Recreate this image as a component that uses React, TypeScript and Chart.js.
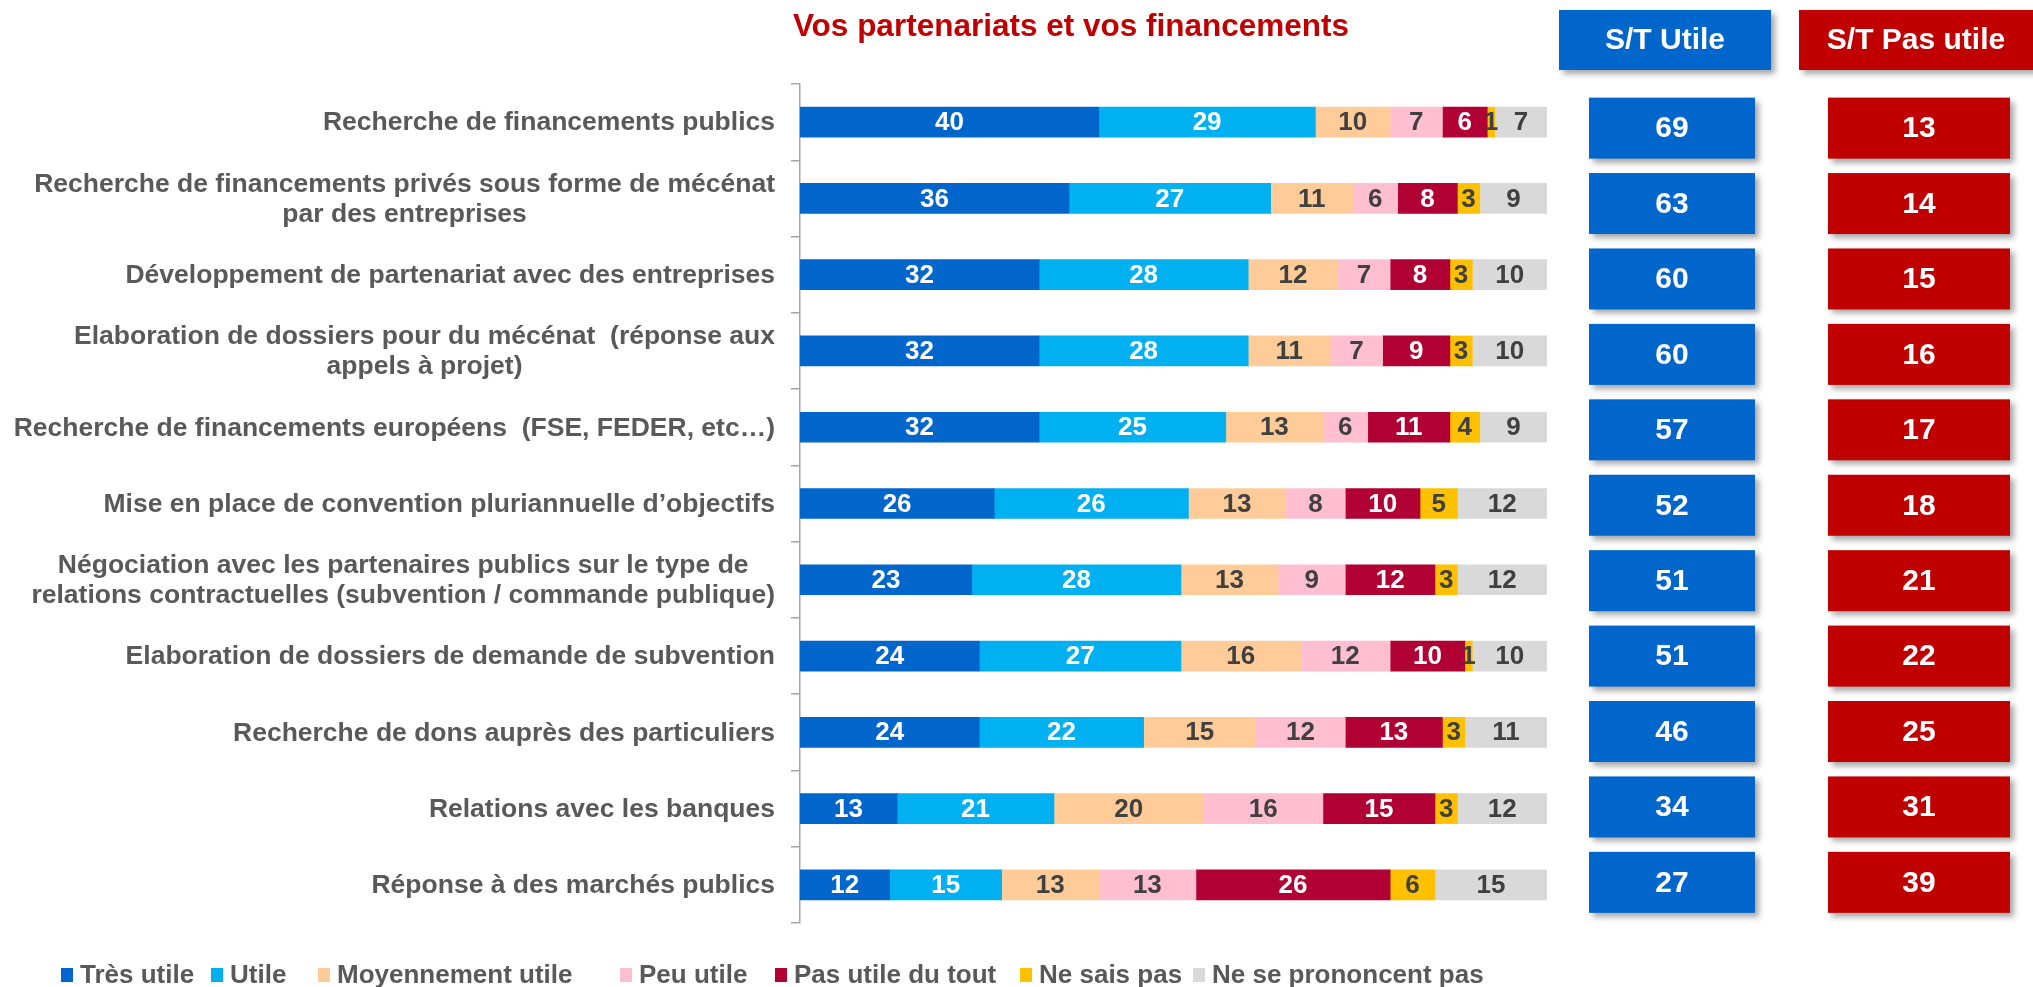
import React, { useEffect, useRef } from "react";
import { Chart, registerables } from "chart.js";
Chart.register(...registerables);

const categories: string[][] = [
  ["Recherche de financements publics"],
  ["Recherche de financements privés sous forme de mécénat", "par des entreprises"],
  ["Développement de partenariat avec des entreprises"],
  ["Elaboration de dossiers pour du mécénat  (réponse aux", "appels à projet)"],
  ["Recherche de financements européens  (FSE, FEDER, etc…)"],
  ["Mise en place de convention pluriannuelle d’objectifs"],
  ["Négociation avec les partenaires publics sur le type de", "relations contractuelles (subvention / commande publique)"],
  ["Elaboration de dossiers de demande de subvention"],
  ["Recherche de dons auprès des particuliers"],
  ["Relations avec les banques"],
  ["Réponse à des marchés publics"],
];

const tresUtile = [40, 36, 32, 32, 32, 26, 23, 24, 24, 13, 12];
const utile = [29, 27, 28, 28, 25, 26, 28, 27, 22, 21, 15];
const moyennementUtile = [10, 11, 12, 11, 13, 13, 13, 16, 15, 20, 13];
const peuUtile = [7, 6, 7, 7, 6, 8, 9, 12, 12, 16, 13];
const pasUtileDuTout = [6, 8, 8, 9, 11, 10, 12, 10, 13, 15, 26];
const neSaisPas = [1, 3, 3, 3, 4, 5, 3, 1, 3, 3, 6];
const neSePrononcentPas = [7, 9, 10, 10, 9, 12, 12, 10, 11, 12, 15];

const stUtile = [69, 63, 60, 60, 57, 52, 51, 51, 46, 34, 27];
const stPasUtile = [13, 14, 15, 16, 17, 18, 21, 22, 25, 31, 39];

const seriesNames = [
  "Très utile",
  "Utile",
  "Moyennement utile",
  "Peu utile",
  "Pas utile du tout",
  "Ne sais pas",
  "Ne se prononcent pas",
];
const seriesValues = [tresUtile, utile, moyennementUtile, peuUtile, pasUtileDuTout, neSaisPas, neSePrononcentPas];
const seriesColors = ["#0066CC", "#00B0F0", "#FFCC99", "#FFBFD0", "#B00034", "#FFC000", "#D9D9D9"];
const labelColors = ["#FFFFFF", "#FFFFFF", "#404040", "#404040", "#FFFFFF", "#404040", "#404040"];

const title = "Vos partenariats et vos financements";
const headerUtile = "S/T Utile";
const headerPasUtile = "S/T Pas utile";

const FONT = "'Liberation Sans', Arial, Helvetica, sans-serif";
const BLUE = "#0066CC";
const RED = "#C00000";
const LEGEND_X = [61, 211, 318, 620, 775, 1020, 1193];

function drawBox(ctx: CanvasRenderingContext2D, x: number, y: number, w: number, h: number, color: string) {
  ctx.save();
  ctx.shadowColor = "rgba(0,0,0,0.35)";
  ctx.shadowBlur = 6;
  ctx.shadowOffsetX = 4;
  ctx.shadowOffsetY = 4;
  ctx.fillStyle = color;
  ctx.fillRect(x, y, w, h);
  ctx.restore();
}

const overlayPlugin = {
  id: "overlay",
  afterDatasetsDraw(chart: any) {
    const ctx: CanvasRenderingContext2D = chart.ctx;
    ctx.save();
    ctx.font = `bold 26px ${FONT}`;
    ctx.textAlign = "center";
    ctx.textBaseline = "middle";
    chart.data.datasets.forEach((ds: any, di: number) => {
      const meta = chart.getDatasetMeta(di);
      meta.data.forEach((el: any, i: number) => {
        const v = ds.data[i];
        const cx = (el.x + el.base) / 2;
        ctx.fillStyle = labelColors[di];
        ctx.fillText(String(v), cx, el.y + 1);
      });
    });
    ctx.restore();
  },
  afterDraw(chart: any) {
    const ctx: CanvasRenderingContext2D = chart.ctx;
    const yScale = chart.scales.y;
    ctx.save();

    // Title
    ctx.font = `bold 31.5px ${FONT}`;
    ctx.fillStyle = RED;
    ctx.textAlign = "center";
    ctx.textBaseline = "middle";
    ctx.fillText(title, 1071, 27);

    // Headers
    drawBox(ctx, 1559, 10, 212, 60, BLUE);
    drawBox(ctx, 1799, 10, 240, 60, RED);
    ctx.font = `bold 30px ${FONT}`;
    ctx.fillStyle = "#FFFFFF";
    ctx.fillText(headerUtile, 1665, 41);
    ctx.fillText(headerPasUtile, 1916, 41);

    // Category labels
    ctx.font = `bold 26.5px ${FONT}`;
    ctx.fillStyle = "#595959";
    const lineH = 30;
    categories.forEach((lines, i) => {
      const cy = yScale.getPixelForValue(i);
      let w = 0;
      lines.forEach((l) => (w = Math.max(w, ctx.measureText(l).width)));
      const cx = 775 - w / 2;
      lines.forEach((l, j) => {
        ctx.fillText(l, cx, cy + (j - (lines.length - 1) / 2) * lineH + 1);
      });
    });

    // Sub-total boxes
    stUtile.forEach((v, i) => {
      const cy = yScale.getPixelForValue(i) + 6 - 0.85 * i;
      drawBox(ctx, 1589, cy - 30.5, 166, 61, BLUE);
      drawBox(ctx, 1828, cy - 30.5, 182, 61, RED);
      ctx.font = `bold 30px ${FONT}`;
      ctx.fillStyle = "#FFFFFF";
      ctx.textAlign = "center";
      ctx.fillText(String(v), 1672, cy + 1);
      ctx.fillText(String(stPasUtile[i]), 1919, cy + 1);
    });

    // Legend
    ctx.font = `bold 26px ${FONT}`;
    ctx.textAlign = "left";
    const ly = 975;
    seriesNames.forEach((name, i) => {
      const x = LEGEND_X[i];
      ctx.fillStyle = seriesColors[i];
      ctx.fillRect(x, ly - 7, 12, 14);
      ctx.fillStyle = "#595959";
      ctx.fillText(name, x + 19, ly + 1);
    });

    ctx.restore();
  },
};

export default function App() {
  const canvasRef = useRef<HTMLCanvasElement | null>(null);

  useEffect(() => {
    document.body.style.margin = "0";
    const canvas = canvasRef.current!;
    const chart = new Chart(canvas, {
      type: "bar",
      data: {
        labels: categories,
        datasets: seriesNames.map((name, i) => ({
          label: name,
          data: seriesValues[i],
          backgroundColor: seriesColors[i],
          borderWidth: 0,
          barThickness: 30,
        })),
      },
      options: {
        indexAxis: "y",
        responsive: false,
        animation: false,
        devicePixelRatio: 1,
        layout: { padding: { left: 0, right: 486, top: 84, bottom: 64 } },
        plugins: {
          legend: { display: false },
          tooltip: { enabled: false },
          title: { display: false },
        },
        scales: {
          x: { stacked: true, min: 0, max: 100, display: false },
          y: {
            stacked: true,
            ticks: { display: false },
            grid: {
              display: true,
              drawOnChartArea: false,
              drawTicks: true,
              tickLength: 9,
              color: "#A6A6A6",
              lineWidth: 1.5,
              offset: true,
            },
            border: { display: true, color: "#A6A6A6", width: 1.5 },
            afterFit: (scale: any) => {
              scale.width = 800;
            },
          },
        },
      },
      plugins: [overlayPlugin],
    } as any);
    return () => chart.destroy();
  }, []);

  return <canvas ref={canvasRef} width={2033} height={987} style={{ display: "block" }} />;
}
